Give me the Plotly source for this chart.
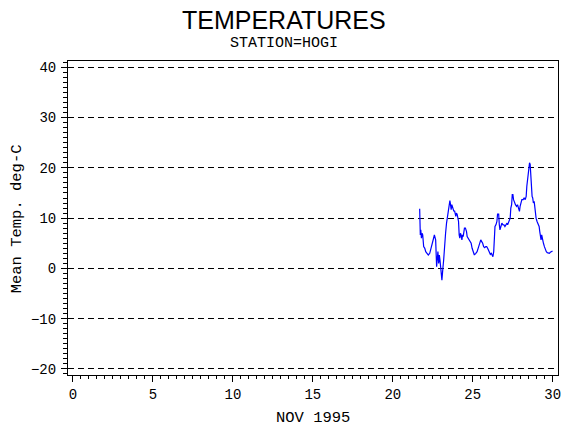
import plotly.graph_objects as go

# Day of November 1995 (fractional) and mean temperature (deg C)
days = [21.68, 21.70, 21.72, 21.75, 21.79, 21.83, 21.87, 21.89, 21.93, 22.00,
        22.06, 22.14, 22.22, 22.31, 22.37, 22.43, 22.47, 22.51, 22.55, 22.60,
        22.64, 22.68, 22.74, 22.78, 22.82, 22.87, 22.91, 22.95, 22.99, 23.03,
        23.07, 23.11, 23.14, 23.18, 23.22, 23.26, 23.30, 23.36, 23.40, 23.45,
        23.49, 23.53, 23.57, 23.61, 23.65, 23.69, 23.74, 23.78, 23.82, 23.86,
        23.90, 23.94, 23.98, 24.03, 24.07, 24.11, 24.15, 24.19, 24.23, 24.27,
        24.32, 24.36, 24.40, 24.44, 24.48, 24.54, 24.61, 24.65, 24.71, 24.77,
        24.83, 24.90, 24.96, 25.02, 25.06, 25.10, 25.19, 25.27,
        25.37, 25.44, 25.50, 25.56, 25.62, 25.68, 25.75, 25.81, 25.87, 25.93,
        25.99, 26.06, 26.10, 26.16, 26.22, 26.26, 26.31, 26.35, 26.39, 26.45,
        26.51, 26.55, 26.62, 26.66, 26.70, 26.76, 26.82, 26.89, 26.95, 27.01,
        27.07, 27.14, 27.18, 27.22, 27.28, 27.34, 27.38, 27.43, 27.47, 27.51,
        27.55, 27.61, 27.67, 27.74, 27.80, 27.86, 27.92, 27.96, 28.01, 28.07,
        28.15, 28.21, 28.28, 28.34, 28.38, 28.42, 28.46, 28.50, 28.55, 28.59,
        28.63, 28.67, 28.71, 28.75, 28.79, 28.84, 28.88, 28.92, 28.96, 29.02,
        29.08, 29.15, 29.19, 29.23, 29.27, 29.31, 29.35, 29.42, 29.48, 29.54,
        29.60, 29.66, 29.73, 29.79, 29.85, 29.91, 29.99]
temps = [11.87, 8.67, 6.67, 7.67, 6.0, 7.0, 6.67, 5.33, 4.33, 4.0,
         3.33, 3.0, 2.67, 3.0, 3.67, 4.13, 5.0, 5.33, 6.0, 6.67,
         6.33, 5.67, 0.33, 2.0, 3.33, 1.0, 2.67, 1.67, -0.67, -1.0,
         -2.33, -1.33, 0.33, 1.67, 4.0, 5.33, 7.0, 9.0, 10.0, 11.33,
         12.33, 13.0, 13.47, 12.67, 11.67, 12.67, 12.0, 11.67, 11.33, 11.47,
         11.0, 10.33, 11.0, 10.67, 10.0, 9.33, 6.67, 6.0, 7.0, 6.67,
         5.67, 6.67, 6.33, 7.33, 8.0, 8.0, 7.33, 6.33, 6.0, 5.67,
         5.33, 5.0, 4.0, 3.47, 3.0, 2.67, 3.0, 3.33,
         4.33, 5.2, 5.67, 5.33, 5.0, 4.33, 4.13, 4.33, 4.33, 4.0,
         3.67, 3.13, 2.8, 3.0, 2.67, 2.33, 3.33, 6.33, 8.33, 8.67,
         9.33, 10.8, 10.8, 8.67, 7.67, 8.33, 9.0, 8.67, 8.67, 8.33,
         8.67, 9.0, 8.67, 9.0, 9.33, 10.0, 12.0, 12.67, 14.67, 14.67,
         13.67, 13.0, 12.67, 12.33, 12.67, 12.0, 11.33, 12.33, 13.33, 13.67,
         13.67, 14.0, 13.67, 14.33, 16.33, 17.33, 18.67, 20.33, 21.0, 20.67,
         18.0, 16.0, 14.33, 14.0, 13.0, 13.33, 11.67, 10.67, 10.0, 9.33,
         9.0, 8.33, 7.33, 6.67, 5.67, 6.67, 5.67, 5.0, 4.33, 3.67,
         3.33, 3.13, 3.0, 3.0, 3.2, 3.33, 3.47]

x_ticks = [0, 5, 10, 15, 20, 25, 30]
y_ticks = [-20, -10, 0, 10, 20, 30, 40]

title_text = "TEMPERATURES"
subtitle_text = "STATION=HOGI"
x_label = "NOV 1995"
y_label = "Mean Temp. deg-C"

mono = "Liberation Mono, DejaVu Sans Mono, monospace"

fig = go.Figure()
fig.add_trace(go.Scatter(x=days, y=temps, mode="lines",
                         line=dict(color="#0000FF", width=1.2),
                         hoverinfo="skip", showlegend=False))

L, R, T, B = 68, 9, 61, 55
W, H = 570, 430
pw, ph = W - L - R, H - T - B

fig.update_layout(
    width=W, height=H,
    margin=dict(l=L, r=R, t=T, b=B),
    paper_bgcolor="white", plot_bgcolor="white",
    showlegend=False,
    xaxis=dict(range=[-0.31, 30.33], tickvals=x_ticks, ticks="outside",
               ticklen=6, tickwidth=1, tickcolor="black",
               showline=True, linecolor="black", linewidth=1, mirror=True,
               showgrid=False, zeroline=False,
               tickfont=dict(family=mono, size=14, color="black"),
               ticklabelstandoff=0,
               minor=dict(dtick=0.5, tick0=0, ticks="outside", ticklen=3,
                          tickcolor="black", showgrid=False)),
    yaxis=dict(range=[-21.2, 41.25], tickvals=y_ticks, ticks="outside",
               ticklen=6, tickwidth=1, tickcolor="black",
               showline=True, linecolor="black", linewidth=1, mirror=True,
               showgrid=True, gridcolor="black", gridwidth=1, griddash="6px,4px",
               zeroline=False,
               tickfont=dict(family=mono, size=14, color="black"),
               ticklabelstandoff=2,
               minor=dict(dtick=1, tick0=0, ticks="outside", ticklen=4,
                          tickcolor="black", showgrid=False)),
)

def py(ypx):
    return 1 - (ypx - T) / ph

def px(xpx):
    return (xpx - L) / pw

fig.add_annotation(text=title_text, xref="paper", yref="paper",
                   x=px(285), y=py(20), xanchor="center", yanchor="middle",
                   showarrow=False,
                   font=dict(family="Liberation Sans, Arial", size=25, color="black"))
fig.add_annotation(text=subtitle_text, xref="paper", yref="paper",
                   x=px(285), y=py(44), xanchor="center", yanchor="middle",
                   showarrow=False, font=dict(family=mono, size=15, color="black"))
fig.add_annotation(text=x_label, xref="paper", yref="paper",
                   x=px(314), y=py(418), xanchor="center", yanchor="middle",
                   showarrow=False, font=dict(family=mono, size=15.5, color="black"))
fig.add_annotation(text=y_label, xref="paper", yref="paper",
                   x=px(17), y=py(219), xanchor="center", yanchor="middle",
                   textangle=-90, showarrow=False,
                   font=dict(family=mono, size=15.5, color="black"))

fig.write_html("out.html", config={"displayModeBar": False},
               post_script="document.body.style.margin='0';document.body.style.padding='0';")
